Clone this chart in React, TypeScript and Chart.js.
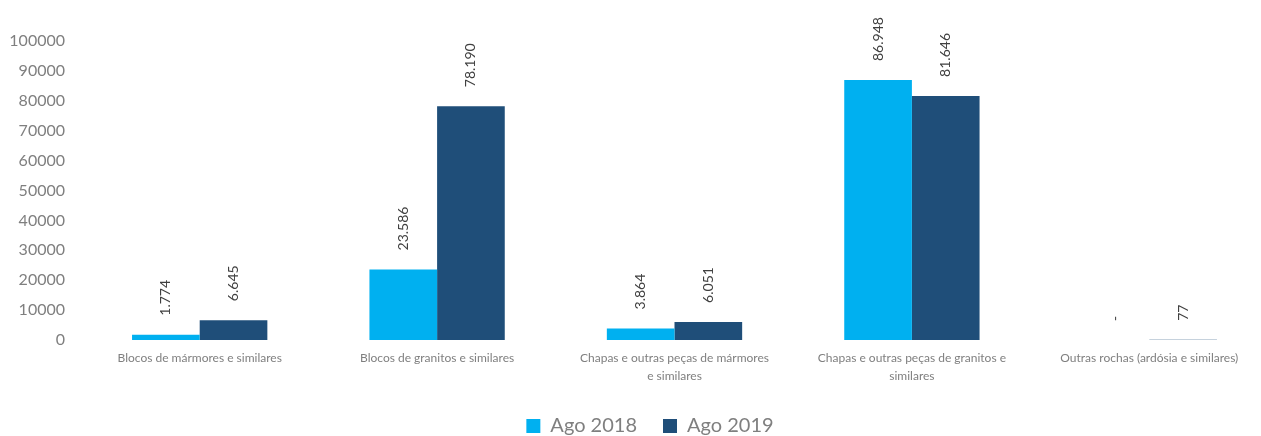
import React, { useEffect, useRef } from "react";
import { Chart, registerables } from "chart.js";

Chart.register(...registerables);

const categories: (string | string[])[] = [
  "Blocos de mármores e similares",
  "Blocos de granitos e similares",
  ["Chapas e outras peças de mármores", "e similares"],
  ["Chapas e outras peças de granitos e", "similares"],
  "Outras rochas (ardósia e similares)",
];
const seriesNames = ["Ago 2018", "Ago 2019"];
const ago2018 = [1774, 23586, 3864, 86948, 0];
const ago2019 = [6645, 78190, 6051, 81646, 77];
const colors = ["#00B0F0", "#1F4E79"];

const fmt = (v: number) =>
  v === 0 ? "-" : String(Math.round(v)).replace(/\B(?=(\d{3})+(?!\d))/g, ".");

const valueLabels = {
  id: "valueLabels",
  afterDatasetsDraw(chart: any) {
    const ctx = chart.ctx;
    ctx.save();
    ctx.font = "14px Lato";
    ctx.fillStyle = "#404040";
    ctx.textAlign = "left";
    ctx.textBaseline = "middle";
    chart.data.datasets.forEach((ds: any, di: number) => {
      const meta = chart.getDatasetMeta(di);
      meta.data.forEach((bar: any, i: number) => {
        const v = ds.data[i];
        ctx.save();
        ctx.translate(bar.x, bar.y - 19);
        ctx.rotate(-Math.PI / 2);
        ctx.fillText(fmt(v), 0, 0);
        ctx.restore();
      });
    });
    ctx.restore();
  },
};

export default function App() {
  const ref = useRef<HTMLCanvasElement | null>(null);
  useEffect(() => {
    if (!ref.current) return;
    const chart = new Chart(ref.current, {
      type: "bar",
      data: {
        labels: categories,
        datasets: [
          { label: seriesNames[0], data: ago2018, backgroundColor: colors[0] },
          { label: seriesNames[1], data: ago2019, backgroundColor: colors[1] },
        ],
      },
      options: {
        responsive: false,
        animation: false,
        devicePixelRatio: 1,
        layout: { padding: { top: 41, right: 0, left: 0, bottom: 0 } },
        datasets: { bar: { categoryPercentage: 0.57, barPercentage: 1 } },
        plugins: {
          legend: {
            position: "bottom",
            labels: {
              font: { family: "Lato", size: 20 },
              color: "#7f7f7f",
              boxWidth: 14,
              boxHeight: 14,
              padding: 26,
            },
          },
          tooltip: { enabled: false },
          title: { display: false },
        },
        scales: {
          x: {
            grid: { display: false, drawTicks: false },
            border: { display: false },
            ticks: {
              font: { family: "Lato", size: 12, lineHeight: 1.5 },
              color: "#7f7f7f",
              maxRotation: 0,
              autoSkip: false,
              padding: 9,
            },
            afterFit: (s: any) => {
              s.height = 50;
            },
          },
          y: {
            min: 0,
            max: 100000,
            grid: { display: false, drawTicks: false },
            border: { display: false },
            ticks: {
              stepSize: 10000,
              font: { family: "Lato", size: 16 },
              color: "#7f7f7f",
              padding: 16,
              callback: (v: any) => String(v),
            },
            afterFit: (s: any) => {
              s.width = 81;
            },
          },
          yRight: {
            position: "right",
            min: 0,
            max: 100000,
            grid: { display: false, drawTicks: false },
            border: { display: false },
            ticks: { display: false },
            afterFit: (s: any) => {
              s.width = 32;
            },
          },
        },
      },
      plugins: [valueLabels],
    });
    return () => chart.destroy();
  }, []);
  return (
    <div
      style={{
        position: "fixed",
        left: 0,
        top: 0,
        width: 1261,
        height: 436,
        overflow: "hidden",
        background: "#fff",
      }}
    >
      <canvas ref={ref} width={1300} height={446} style={{ display: "block" }} />
    </div>
  );
}
